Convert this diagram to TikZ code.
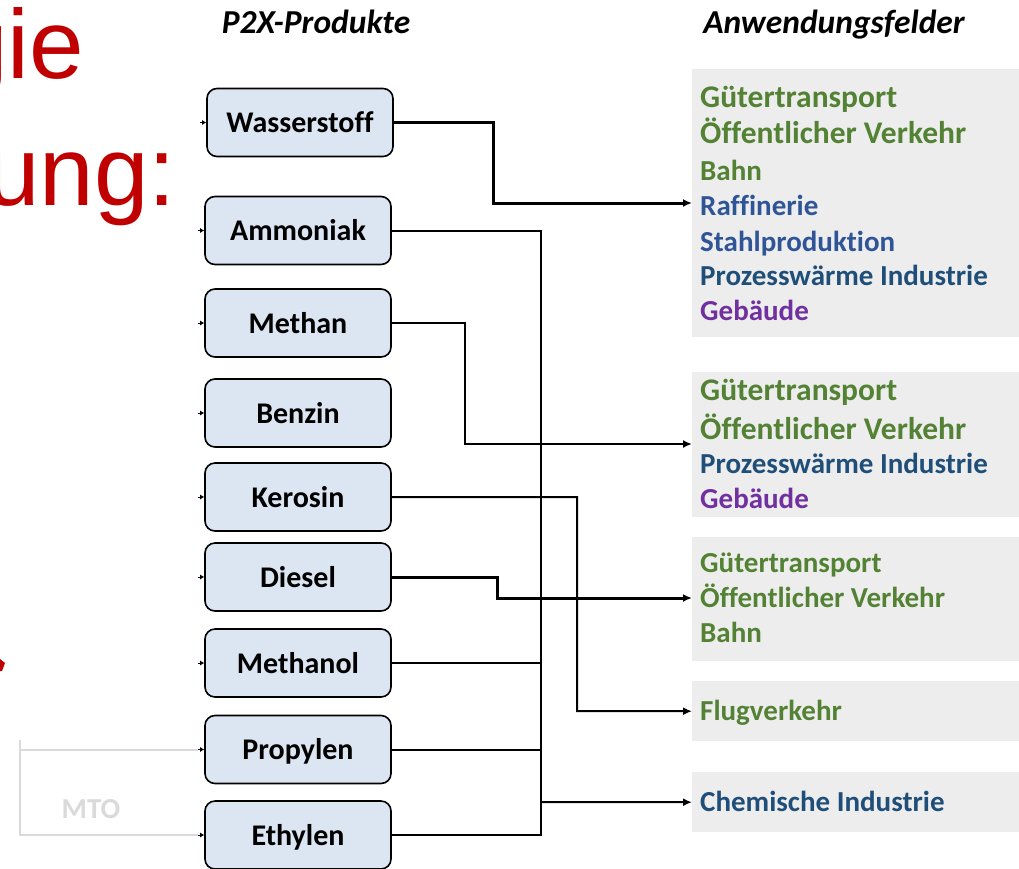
\documentclass[tikz,border=0pt]{standalone}
\usepackage{fontspec}
\setmainfont{Carlito}[Ligatures=NoCommon]
\newfontfamily\arialfont{Liberation Sans}
\usetikzlibrary{arrows.meta}
\definecolor{boxfill}{HTML}{DCE6F2}
\definecolor{panelgray}{HTML}{EDEDED}
\definecolor{appgreen}{HTML}{548235}
\definecolor{appblue}{HTML}{2F5597}
\definecolor{appnavy}{HTML}{1F4E79}
\definecolor{apppurple}{HTML}{7030A0}
\definecolor{titlered}{HTML}{C00000}
\definecolor{mtogray}{HTML}{DADADA}
\tikzset{
  prod/.style={draw=black, line width=1.6pt, fill=boxfill, rounded corners=10pt,
    minimum width=186pt, minimum height=68pt, inner sep=0pt,
    font=\fontsize{30}{32}\selectfont\bfseries, text height=20pt, text depth=0pt},
  panel/.style={fill=panelgray, anchor=north west, inner sep=0pt, minimum width=327pt},
  item/.style={anchor=base west, inner sep=0pt},
  bigtxt/.style={font=\fontsize{31.5}{33}\selectfont\bfseries},
  smalltxt/.style={font=\fontsize{29}{31}\selectfont\bfseries},
  heading/.style={anchor=base, inner sep=0pt, font=\fontsize{33.5}{36}\selectfont\bfseries\itshape},
  redtxt/.style={anchor=base east, inner sep=0pt, text=titlered, font=\arialfont\fontsize{98}{100}\selectfont},
  wire/.style={draw=black, line width=2pt},
  conn/.style={wire, -{Latex[length=9pt,width=8pt]}},
  heavy/.style={line width=3pt},
  stub/.style={draw=black, line width=0.8pt, -{Latex[length=4pt,width=5pt]}},
  mtoline/.style={draw=mtogray, line width=2pt}
}
\begin{document}
\begin{tikzpicture}[x=1pt,y=-1pt]
\useasboundingbox (0,0) rectangle (1019,868);
\clip (0,0) rectangle (1019,868);

% red slide title fragments at the left edge
\node[redtxt] (t1) at (84,78) {gie};
\node[redtxt] (t2) at (176,205) {ung:};
\fill[titlered] (0,659) -- (5,663) -- (2,671) -- (0,671) -- cycle;

% column headings
\node[heading] (h1) at (316,33.5) {P2X-Produkte};
\node[heading] (h2) at (834,33.5) {Anwendungsfelder};

% products
\node[prod] (wst) at (300,122.5) {Wasserstoff};
\node[prod] (amm) at (298,230.5) {Ammoniak};
\node[prod] (met) at (298,323) {Methan};
\node[prod] (ben) at (298,413) {Benzin};
\node[prod] (ker) at (298,497) {Kerosin};
\node[prod] (die) at (298,577) {Diesel};
\node[prod] (mol) at (298,663) {Methanol};
\node[prod] (pro) at (298,749.5) {Propylen};
\node[prod] (eth) at (298,835) {Ethylen};

% small input tips on the products
\foreach \n in {wst,amm,met,ben,ker,die,mol,pro,eth}
  \draw[stub] ([xshift=-6pt]\n.west) -- (\n.west);

% MTO feed
\coordinate (mtotop) at (20,740);
\draw[mtoline] (mtotop) |- ([xshift=-6pt]eth.west);
\draw[mtoline] (mtotop |- pro.west) -- ([xshift=-6pt]pro.west);
\node[font=\fontsize{29}{31}\selectfont\bfseries, text=mtogray] (mto) at (91,809) {MTO};

% application fields
\node[panel, minimum height=268pt] (p1) at (692,69) {};
\node[item,bigtxt,text=appgreen] (p1a) at (700,107) {Gütertransport};
\node[item,bigtxt,text=appgreen] (p1b) at (700,143) {Öffentlicher Verkehr};
\node[item,smalltxt,text=appgreen] (p1c) at (700,180) {Bahn};
\node[item,smalltxt,text=appblue] (p1d) at (700,215) {Raffinerie};
\node[item,smalltxt,text=appblue] (p1e) at (700,251) {Stahlproduktion};
\node[item,smalltxt,text=appnavy] (p1f) at (700,285) {Prozesswärme Industrie};
\node[item,smalltxt,text=apppurple] (p1g) at (700,320) {Gebäude};

\node[panel, minimum height=145pt] (p2) at (692,372) {};
\node[item,bigtxt,text=appgreen] (p2a) at (700,400) {Gütertransport};
\node[item,bigtxt,text=appgreen] (p2b) at (700,439) {Öffentlicher Verkehr};
\node[item,smalltxt,text=appnavy] (p2c) at (700,473) {Prozesswärme Industrie};
\node[item,smalltxt,text=apppurple] (p2d) at (700,508) {Gebäude};

\node[panel, minimum height=124pt] (p3) at (692,537) {};
\node[item,smalltxt,text=appgreen] (p3a) at (700,572) {Gütertransport};
\node[item,smalltxt,text=appgreen] (p3b) at (700,607) {Öffentlicher Verkehr};
\node[item,smalltxt,text=appgreen] (p3c) at (700,642) {Bahn};

\node[panel, minimum height=60pt] (p4) at (692,681) {};
\node[item,smalltxt,text=appgreen] (p4a) at (700,720) {Flugverkehr};

\node[panel, minimum height=60pt] (p5) at (692,772) {};
\node[item,smalltxt,text=appnavy] (p5a) at (700,811) {Chemische Industrie};

% connectors
\draw[conn,heavy] (wst.east) -| (493,203) -- (p1.west |- 0,203);
\draw[conn] (met.east) -| (465,444) -- (p2.west |- 0,444);
\draw[conn] (ker.east) -| (577,711) -- (p4.west);
\draw[conn,heavy] (die.east) -| (497,598) -- (p3.west |- 0,598);

\coordinate (bus) at (541,802);
\draw[wire] (amm.east) -| (541,835) -- (eth.east);
\draw[wire] (mol.east) -- (mol.east -| bus);
\draw[wire] (pro.east) -- (pro.east -| bus);
\draw[conn] (bus) -- (p5.west);
\end{tikzpicture}
\end{document}
